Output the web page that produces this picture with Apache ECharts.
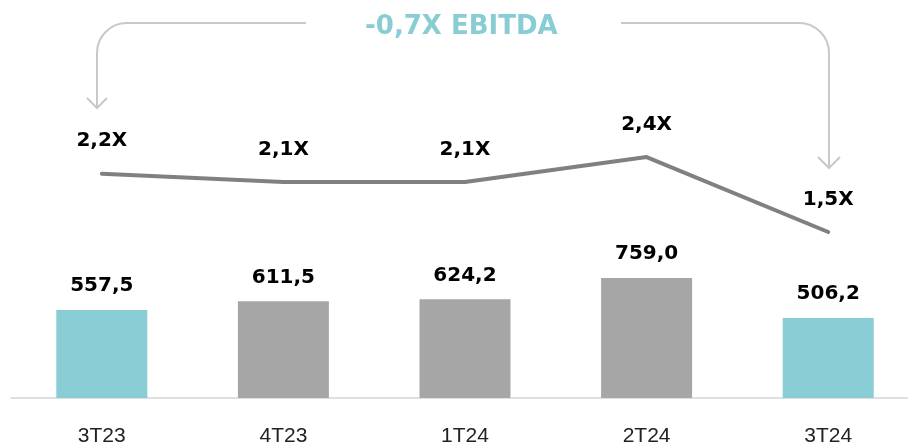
<!DOCTYPE html>
<html>
<head>
<meta charset="utf-8">
<script src="https://cdn.jsdelivr.net/npm/echarts@6/dist/echarts.min.js"></script>
<style>
  html, body { margin: 0; padding: 0; background: #fff; }
  #chart { width: 908px; height: 448px; }
</style>
</head>
<body>
<div id="chart"></div>
<script>
// dados
const categorias = ["3T23", "4T23", "1T24", "2T24", "3T24"];
const dividaLiquida = [557.5, 611.5, 624.2, 759.0, 506.2];
const alavancagem = [2.2, 2.1, 2.1, 2.4, 1.5];
const titulo = "-0,7X EBITDA";

const teal = "#88cdd4";
const cinza = "#a6a6a6";
const seta = "#c8c8c8";
const fonte = "DejaVu Sans";

const fmt = (v) => v.toFixed(1).replace(".", ",");

var myChart = echarts.init(document.getElementById("chart"));
var option = {
  animation: false,
  title: {
    text: titulo,
    left: 365,
    top: 14,
    padding: 0,
    textStyle: { color: teal, fontFamily: fonte, fontWeight: "bold", fontSize: 26, lineHeight: 26 },
  },
  grid: { left: 11, top: 38, bottom: 50, right: -11, outerBoundsMode: "none", containLabel: false },
  xAxis: {
    type: "category",
    data: categorias,
    axisTick: { show: false },
    axisLine: { lineStyle: { color: "#e0e0e0", width: 2 } },
    axisLabel: { color: "#222", fontSize: 21, fontFamily: "Liberation Sans", margin: 28 },
  },
  yAxis: [
    { type: "value", min: 0, max: 2278, show: false, splitLine: { show: false } },
    { type: "value", min: -0.493, max: 3.829, show: false, splitLine: { show: false } },
  ],
  series: [
    {
      name: "Dívida líquida",
      type: "bar",
      data: dividaLiquida,
      barWidth: 91,
      itemStyle: {
        color: (p) => (p.dataIndex === 0 || p.dataIndex === dividaLiquida.length - 1 ? teal : cinza),
      },
      label: {
        show: true,
        position: "top",
        distance: 14,
        formatter: (p) => fmt(p.value),
        color: "#000",
        fontFamily: fonte,
        fontWeight: "bold",
        fontSize: 20,
      },
    },
    {
      name: "Alavancagem",
      type: "line",
      yAxisIndex: 1,
      data: alavancagem,
      symbol: "circle",
      symbolSize: 3,
      itemStyle: { color: "#808080" },
      lineStyle: { color: "#808080", width: 4, cap: "round", join: "round" },
      label: {
        show: true,
        position: "top",
        distance: 21,
        formatter: (p) => fmt(p.value) + "X",
        color: "#000",
        fontFamily: fonte,
        fontWeight: "bold",
        fontSize: 20,
      },
    },
  ],
  // setas de conexão do título
  graphic: [
    { type: "line", shape: { x1: 306, y1: 23, x2: 127, y2: 23 }, style: { stroke: seta, lineWidth: 2 } },
    { type: "arc", shape: { cx: 127, cy: 53, r: 30, startAngle: Math.PI, endAngle: Math.PI * 1.5, clockwise: true }, style: { stroke: seta, lineWidth: 2, fill: null } },
    { type: "line", shape: { x1: 97, y1: 53, x2: 97, y2: 108 }, style: { stroke: seta, lineWidth: 2 } },
    { type: "polyline", shape: { points: [[87, 98], [97, 108], [107, 98]] }, style: { stroke: seta, lineWidth: 2, fill: null } },

    { type: "line", shape: { x1: 621, y1: 23, x2: 799, y2: 23 }, style: { stroke: seta, lineWidth: 2 } },
    { type: "arc", shape: { cx: 799, cy: 53, r: 30, startAngle: Math.PI * 1.5, endAngle: Math.PI * 2, clockwise: true }, style: { stroke: seta, lineWidth: 2, fill: null } },
    { type: "line", shape: { x1: 829, y1: 53, x2: 829, y2: 168 }, style: { stroke: seta, lineWidth: 2 } },
    { type: "polyline", shape: { points: [[818, 157], [829, 168], [840, 157]] }, style: { stroke: seta, lineWidth: 2, fill: null } },
  ],
};
option && myChart.setOption(option);
</script>
</body>
</html>
